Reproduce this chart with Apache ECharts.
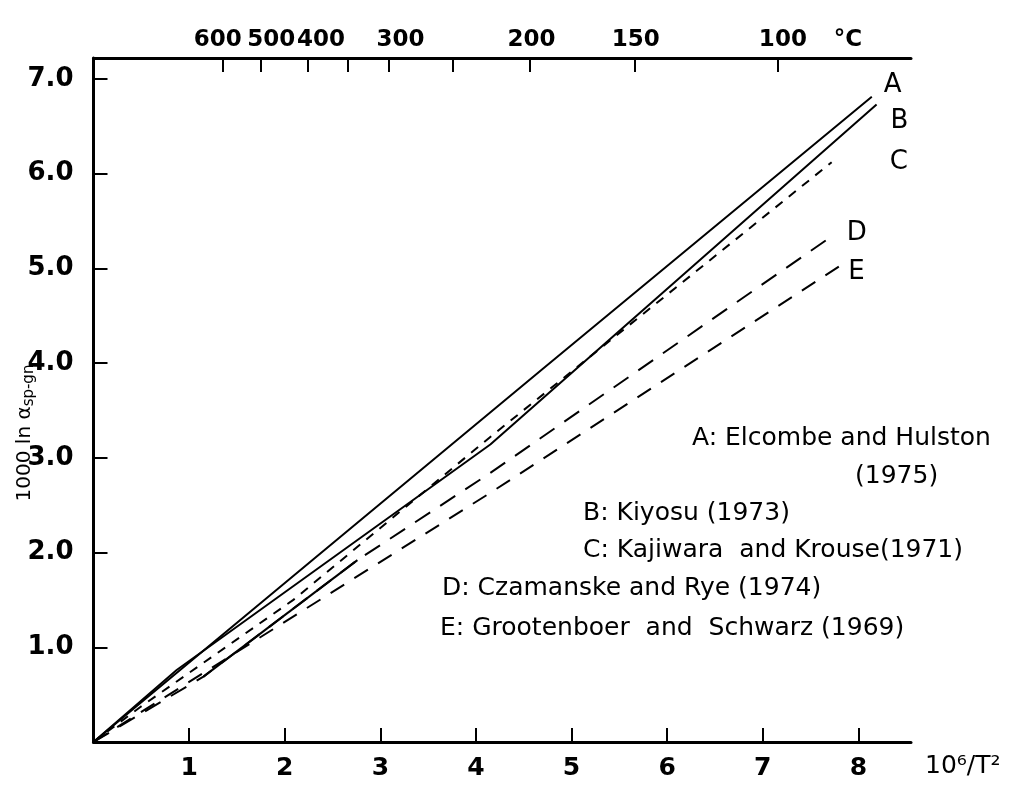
<!DOCTYPE html>
<html>
<head>
<meta charset="utf-8">
<script src="https://cdn.jsdelivr.net/npm/echarts@6/dist/echarts.min.js"></script>
<style>html,body{margin:0;padding:0;background:#fff;}#c{width:1020px;height:787px;}</style>
</head>
<body>
<div id="c"></div>
<script>
// ---- data (x = 10^6/T^2, y = 1000 ln alpha sp-gn) ----
var seriesA = [[0,0],[2.30,1.93],[4.70,3.94],[8.14,6.81]];
var seriesB = [[0,0],[0.87,0.76],[4.15,3.14],[8.19,6.73]];
var seriesC = [[0,0],[0.49,0.37],[2.09,1.50],[4.15,3.22],[7.72,6.12]];
var seriesD = [[0,0],[1.15,0.69],[2.76,1.92],[4.15,2.84],[7.71,5.33]];
var seriesDSolid = [[1.15,0.69],[2.76,1.92]];
var seriesE = [[0,0],[4.15,2.63],[7.83,5.04]];
var legendLines = [
  'A: Elcombe and Hulston',
  '(1975)',
  'B: Kiyosu (1973)',
  'C: Kajiwara  and Krouse(1971)',
  'D: Czamanske and Rye (1974)',
  'E: Grootenboer  and  Schwarz (1969)'
];
// top temperature axis (°C)
var topTickX = [1.355, 1.752, 2.244, 2.66, 3.09, 3.76, 4.566, 5.66, 7.16];
var topLabelX = [1.30, 1.86, 2.38, 3.21, 4.58, 5.67, 7.21, 7.89];
var topLabelText = ['600', '500', '400', '300', '200', '150', '100', '°C'];
var bottomTicks = [1,2,3,4,5,6,7,8];
var yTicks = [1,2,3,4,5,6,7];

var FONT = 'DejaVu Sans';
var chart = echarts.init(document.getElementById('c'), null, {renderer: 'canvas'});

function lineSeries(name, data, type, width) {
  return {
    name: name, type: 'line', data: data, symbol: 'none', silent: true,
    xAxisIndex: 0, yAxisIndex: 0,
    lineStyle: {color: '#000', width: width || 2, type: type},
    animation: false
  };
}
var sA = lineSeries('A', seriesA, 'solid');
var sB = lineSeries('B', seriesB, 'solid');
var sC = lineSeries('C', seriesC, [9, 8]);
var sD = lineSeries('D', seriesD, [18, 12]);
var sDs = lineSeries('Ds', seriesDSolid, 'solid');
var sE = lineSeries('E', seriesE, [16, 12]);
var labelOffsets = {A: [4, -12], B: [6, 17], C: [50, 0], D: [8, -4], E: [-2, 8]};
[sA, sB, sC, sD, sE].forEach(function (s) {
  s.endLabel = {
    show: true, formatter: s.name, color: '#000', fontFamily: FONT,
    fontSize: 26, offset: labelOffsets[s.name]
  };
});

var graphics = [];
var legendPos = [[692, 441], [855, 479], [583, 516], [583, 553], [442, 591], [440, 631]];
legendLines.forEach(function (t, i) {
  graphics.push({
    type: 'text', left: legendPos[i][0], top: legendPos[i][1] - 15,
    style: {text: t, fill: '#000', font: '25px "DejaVu Sans"'}
  });
});
graphics.push({
  type: 'text', x: 25, y: 433, rotation: Math.PI / 2,
  style: {
    text: '1000 ln α{s|sp-gn}', fill: '#000', fontFamily: FONT, fontSize: 20,
    align: 'center', verticalAlign: 'middle',
    rich: {s: {fontSize: 15, fontFamily: FONT, padding: [9, 0, 0, 0]}}
  }
});

var tickFont = {color: '#000', fontFamily: FONT, fontWeight: 'bold', fontSize: 25};

chart.setOption({
  backgroundColor: '#fff',
  animation: false,
  grid: {left: 93.5, right: 109, top: 58, bottom: 45, containLabel: false},
  xAxis: [{
    type: 'value', position: 'bottom', min: 0, max: 8.55, interval: 1,
    axisLine: {show: true, onZero: false, lineStyle: {color: '#000', width: 3}},
    axisTick: {show: true, inside: true, length: 14, lineStyle: {color: '#000', width: 2}, customValues: bottomTicks},
    axisLabel: Object.assign({show: true, customValues: bottomTicks, margin: 14}, tickFont),
    splitLine: {show: false},
    name: '10⁶/T²', nameLocation: 'end', nameGap: 14,
    nameTextStyle: {color: '#000', fontFamily: FONT, fontSize: 25, verticalAlign: 'top', padding: [12, 0, 0, 0]}
  }, {
    type: 'value', position: 'top', min: 0, max: 8.55,
    axisLine: {show: true, onZero: false, lineStyle: {color: '#000', width: 3}},
    axisTick: {show: true, inside: true, length: 14, lineStyle: {color: '#000', width: 2}, customValues: topTickX},
    axisLabel: Object.assign({
      show: true, customValues: topLabelX, margin: 6,
      formatter: function (v) {
        for (var i = 0; i < topLabelX.length; i++) { if (Math.abs(topLabelX[i] - v) < 1e-6) return topLabelText[i]; }
        return '';
      }
    }, tickFont, {fontSize: 23}),
    splitLine: {show: false}
  }],
  yAxis: [{
    type: 'value', min: 0, max: 7.22, interval: 1,
    axisLine: {show: true, onZero: false, lineStyle: {color: '#000', width: 3}},
    axisTick: {show: true, inside: true, length: 14, lineStyle: {color: '#000', width: 2}, customValues: yTicks},
    axisLabel: Object.assign({
      show: true, customValues: yTicks, margin: 20,
      formatter: function (v) { return v.toFixed(1); }
    }, tickFont, {fontSize: 26}),
    splitLine: {show: false}
  }],
  graphic: graphics,
  series: [sA, sB, sC, sD, sDs, sE]
});
</script>
</body>
</html>
